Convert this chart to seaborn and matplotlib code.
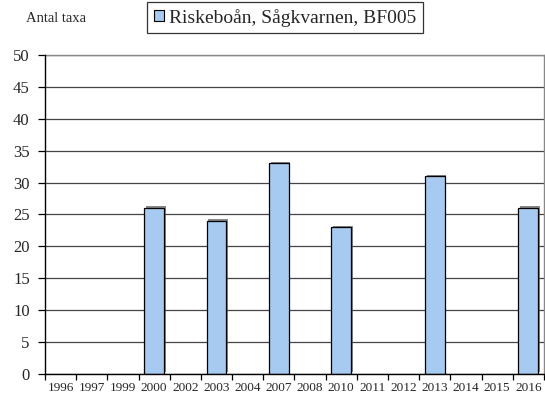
import pandas as pd
import numpy as np
import matplotlib.pyplot as plt
import matplotlib.patheffects as pe
from matplotlib.patches import Patch
import seaborn as sns

years = ['1996', '1997', '1999', '2000', '2002', '2003', '2004', '2007',
         '2008', '2010', '2011', '2012', '2013', '2014', '2015', '2016']
taxa = [None, None, None, 26, None, 24, None, 33,
        None, 23, None, None, 31, None, None, 26]
series_name = 'Riskeboån, Sågkvarnen, BF005'
y_ticks = [0, 5, 10, 15, 20, 25, 30, 35, 40, 45, 50]

df = pd.DataFrame({'year': years, 'taxa': taxa}).dropna()

sns.set_style('white')
plt.rcParams['font.family'] = ['Liberation Serif', 'DejaVu Serif']

fig = plt.figure(figsize=(5.45, 4.01), dpi=100)
ax = fig.add_axes([0.0826, 0.0673, 0.9154, 0.7957])

sns.barplot(data=df, x='year', y='taxa', order=years, ax=ax,
            color='#A6CAF0', saturation=1, width=0.63,
            edgecolor='black', linewidth=0.9, errorbar=None, zorder=3)

# little excel-ish shadow on the bars
for p in ax.patches:
    p.set_path_effects([pe.SimplePatchShadow(offset=(1.2, 1.2), shadow_rgbFace='#555555', alpha=0.7),
                        pe.Normal()])

ax.set_ylim(0, 50)
ax.set_xlim(-0.5, len(years) - 0.5)
ax.set_yticks(y_ticks)
ax.set_yticklabels([str(v) for v in y_ticks], fontsize=12)
ax.yaxis.grid(True, color='#444444', linewidth=0.9, zorder=0)
ax.set_axisbelow(True)

# x ticks sit between the categories, labels in the middle
ax.set_xticks(np.arange(len(years)))
ax.set_xticklabels(years, fontsize=9.5)
ax.set_xticks(np.arange(len(years) + 1) - 0.5, minor=True)
ax.tick_params(axis='x', which='major', length=0, pad=6)
ax.tick_params(axis='x', which='minor', direction='out', length=4, width=0.9, color='black', bottom=True)
ax.tick_params(axis='y', direction='out', length=5, width=0.9, color='black', left=True, pad=6)

ax.set_xlabel('')
ax.set_ylabel('')

for side in ['left', 'bottom']:
    ax.spines[side].set_color('black')
    ax.spines[side].set_linewidth(1.0)
for side in ['top', 'right']:
    ax.spines[side].set_color('#888888')
    ax.spines[side].set_linewidth(1.0)
ax.spines['left'].set_zorder(5)
ax.spines['bottom'].set_zorder(5)

fig.text(0.047, 0.955, 'Antal taxa', fontsize=10.5, va='center', ha='left')

handle = Patch(facecolor='#A6CAF0', edgecolor='black', linewidth=0.8)
leg = fig.legend([handle], [series_name], loc='center', bbox_to_anchor=(0.523, 0.956),
                 fontsize=14, frameon=True, fancybox=False, edgecolor='black',
                 handlelength=0.5, handleheight=0.5, handletextpad=0.25,
                 borderpad=0.35, borderaxespad=0)
leg.get_frame().set_linewidth(0.9)

plt.savefig('out.png', dpi=100)
